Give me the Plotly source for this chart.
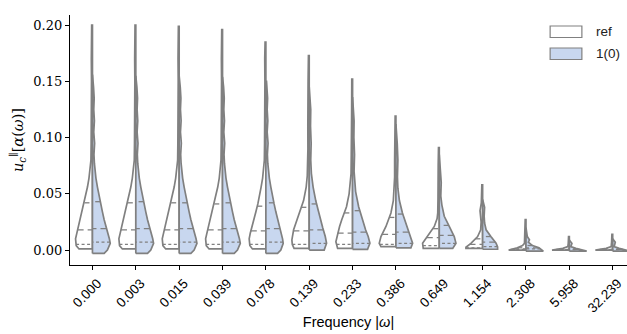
import numpy as np
import plotly.graph_objects as go

# ---------------- data ----------------
categories = ["0.000", "0.003", "0.015", "0.039", "0.078", "0.139", "0.233",
              "0.386", "0.649", "1.154", "2.308", "5.958", "32.239"]
series_names = ["ref", "1(0)"]

# ref (left half) outline: value levels and relative density (half width)
ref_levels = [
    [0.001, 0.004, 0.010, 0.015, 0.020, 0.027, 0.034, 0.041, 0.048, 0.056, 0.064, 0.072, 0.080, 0.095, 0.110, 0.130, 0.150, 0.170, 0.200],
    [0.001, 0.004, 0.010, 0.015, 0.020, 0.027, 0.034, 0.041, 0.048, 0.056, 0.064, 0.072, 0.080, 0.095, 0.110, 0.130, 0.150, 0.170, 0.200],
    [0.001, 0.004, 0.010, 0.015, 0.020, 0.027, 0.034, 0.041, 0.048, 0.056, 0.064, 0.072, 0.080, 0.095, 0.110, 0.130, 0.150, 0.170, 0.199],
    [0.001, 0.004, 0.010, 0.015, 0.020, 0.027, 0.034, 0.041, 0.048, 0.056, 0.064, 0.072, 0.080, 0.095, 0.110, 0.130, 0.150, 0.170, 0.196],
    [0.001, 0.004, 0.010, 0.015, 0.020, 0.027, 0.034, 0.041, 0.048, 0.056, 0.064, 0.072, 0.080, 0.095, 0.110, 0.130, 0.150, 0.170, 0.185],
    [0.0015, 0.005, 0.009, 0.018, 0.024, 0.030, 0.037, 0.044, 0.050, 0.056, 0.066, 0.074, 0.090, 0.110, 0.130, 0.150, 0.173],
    [0.0015, 0.0074, 0.015, 0.021, 0.027, 0.033, 0.0385, 0.050, 0.060, 0.068, 0.085, 0.100, 0.120, 0.152],
    [0.003, 0.006, 0.012, 0.021, 0.027, 0.033, 0.044, 0.053, 0.065, 0.080, 0.100, 0.119],
    [0.0015, 0.006, 0.012, 0.017, 0.021, 0.028, 0.033, 0.045, 0.060, 0.075, 0.091],
    [0.0015, 0.0025, 0.006, 0.012, 0.018, 0.025, 0.035, 0.042, 0.058],
    [0.0, 0.002, 0.004, 0.006, 0.010, 0.016, 0.027],
    [0.0, 0.0015, 0.003, 0.006, 0.012],
    [0.0, 0.0015, 0.003, 0.007, 0.014],
]
ref_density = [
    [0.31, 0.375, 0.39, 0.36, 0.33, 0.28, 0.235, 0.19, 0.15, 0.115, 0.08, 0.05, 0.035, 0.03, 0.025, 0.032, 0.022, 0.026, 0.018],
    [0.31, 0.375, 0.39, 0.36, 0.33, 0.28, 0.235, 0.19, 0.15, 0.115, 0.08, 0.05, 0.035, 0.03, 0.025, 0.032, 0.022, 0.026, 0.018],
    [0.31, 0.375, 0.39, 0.36, 0.33, 0.28, 0.235, 0.19, 0.15, 0.115, 0.08, 0.05, 0.035, 0.03, 0.025, 0.032, 0.022, 0.026, 0.018],
    [0.31, 0.375, 0.39, 0.36, 0.33, 0.28, 0.23, 0.19, 0.15, 0.11, 0.075, 0.05, 0.035, 0.03, 0.025, 0.032, 0.022, 0.026, 0.018],
    [0.31, 0.37, 0.385, 0.36, 0.33, 0.28, 0.23, 0.185, 0.145, 0.11, 0.075, 0.05, 0.035, 0.03, 0.025, 0.032, 0.022, 0.026, 0.018],
    [0.35, 0.39, 0.40, 0.36, 0.31, 0.25, 0.19, 0.13, 0.10, 0.07, 0.045, 0.035, 0.03, 0.032, 0.022, 0.026, 0.018],
    [0.345, 0.385, 0.345, 0.30, 0.25, 0.19, 0.14, 0.08, 0.05, 0.035, 0.03, 0.032, 0.022, 0.018],
    [0.345, 0.385, 0.345, 0.23, 0.17, 0.115, 0.06, 0.04, 0.03, 0.03, 0.025, 0.018],
    [0.37, 0.385, 0.27, 0.17, 0.115, 0.05, 0.035, 0.03, 0.035, 0.025, 0.018],
    [0.385, 0.385, 0.27, 0.115, 0.045, 0.035, 0.06, 0.03, 0.018],
    [0.40, 0.20, 0.08, 0.035, 0.03, 0.025, 0.018],
    [0.40, 0.15, 0.035, 0.025, 0.018],
    [0.40, 0.15, 0.035, 0.025, 0.018],
]

# 1(0) (right half) outline
cur_levels = [
    [-0.003, 0.0, 0.006, 0.010, 0.015, 0.021, 0.027, 0.034, 0.041, 0.048, 0.056, 0.064, 0.070, 0.077, 0.085, 0.095, 0.105, 0.115, 0.125, 0.135, 0.145, 0.156],
    [-0.003, 0.0, 0.006, 0.010, 0.015, 0.021, 0.027, 0.034, 0.041, 0.048, 0.056, 0.064, 0.070, 0.077, 0.085, 0.095, 0.105, 0.115, 0.125, 0.135, 0.145, 0.155],
    [-0.003, 0.0, 0.006, 0.010, 0.015, 0.021, 0.027, 0.034, 0.041, 0.048, 0.056, 0.064, 0.070, 0.077, 0.085, 0.095, 0.105, 0.115, 0.125, 0.135, 0.145, 0.155],
    [-0.003, 0.0, 0.006, 0.010, 0.015, 0.021, 0.027, 0.034, 0.041, 0.048, 0.056, 0.064, 0.070, 0.077, 0.085, 0.095, 0.105, 0.115, 0.125, 0.135, 0.145, 0.154],
    [-0.003, 0.0, 0.006, 0.010, 0.015, 0.021, 0.027, 0.034, 0.041, 0.048, 0.056, 0.064, 0.070, 0.077, 0.085, 0.095, 0.105, 0.115, 0.125, 0.135, 0.150],
    [0.0, 0.006, 0.012, 0.020, 0.027, 0.035, 0.044, 0.056, 0.068, 0.080, 0.095, 0.110, 0.125, 0.145],
    [0.0006, 0.006, 0.012, 0.018, 0.024, 0.031, 0.0385, 0.052, 0.062, 0.070, 0.085, 0.100, 0.115, 0.136],
    [0.002, 0.006, 0.012, 0.021, 0.027, 0.033, 0.044, 0.055, 0.065, 0.080, 0.095, 0.112],
    [0.0015, 0.006, 0.012, 0.021, 0.026, 0.030, 0.040, 0.048, 0.060, 0.072, 0.085],
    [0.0007, 0.0027, 0.006, 0.012, 0.018, 0.024, 0.030, 0.038, 0.045],
    [-0.001, 0.002, 0.004, 0.007, 0.009, 0.012, 0.020],
    [-0.001, 0.0015, 0.003, 0.006, 0.009],
    [-0.001, 0.0015, 0.003, 0.007, 0.010],
]
cur_density = [
    [0.27, 0.345, 0.41, 0.39, 0.35, 0.31, 0.27, 0.23, 0.19, 0.15, 0.115, 0.08, 0.06, 0.045, 0.035, 0.05, 0.03, 0.045, 0.03, 0.04, 0.025, 0.015],
    [0.27, 0.345, 0.41, 0.39, 0.35, 0.31, 0.27, 0.23, 0.19, 0.15, 0.115, 0.08, 0.06, 0.045, 0.035, 0.05, 0.03, 0.045, 0.03, 0.04, 0.025, 0.015],
    [0.27, 0.345, 0.41, 0.39, 0.35, 0.31, 0.27, 0.23, 0.19, 0.15, 0.115, 0.08, 0.06, 0.045, 0.035, 0.05, 0.03, 0.045, 0.03, 0.04, 0.025, 0.015],
    [0.27, 0.345, 0.41, 0.39, 0.35, 0.31, 0.27, 0.23, 0.19, 0.15, 0.115, 0.08, 0.06, 0.045, 0.035, 0.05, 0.03, 0.045, 0.03, 0.04, 0.025, 0.015],
    [0.27, 0.345, 0.40, 0.385, 0.35, 0.31, 0.27, 0.23, 0.19, 0.15, 0.115, 0.08, 0.06, 0.045, 0.035, 0.05, 0.03, 0.045, 0.03, 0.04, 0.015],
    [0.345, 0.40, 0.37, 0.31, 0.27, 0.21, 0.15, 0.09, 0.05, 0.035, 0.045, 0.03, 0.035, 0.015],
    [0.345, 0.40, 0.36, 0.30, 0.25, 0.19, 0.14, 0.07, 0.045, 0.035, 0.045, 0.03, 0.035, 0.015],
    [0.345, 0.385, 0.33, 0.25, 0.20, 0.15, 0.08, 0.045, 0.035, 0.045, 0.03, 0.015],
    [0.31, 0.385, 0.345, 0.23, 0.16, 0.115, 0.06, 0.035, 0.045, 0.03, 0.015],
    [0.345, 0.345, 0.31, 0.19, 0.08, 0.045, 0.035, 0.045, 0.015],
    [0.40, 0.30, 0.15, 0.055, 0.08, 0.03, 0.015],
    [0.40, 0.15, 0.035, 0.06, 0.015],
    [0.40, 0.15, 0.035, 0.06, 0.015],
]

# quartiles (q1, median, q3)
ref_quartiles = [
    (0.005, 0.018, 0.042), (0.005, 0.018, 0.042), (0.005, 0.018, 0.042),
    (0.005, 0.018, 0.041), (0.005, 0.017, 0.039), (0.005, 0.017, 0.038),
    (0.005, 0.015, 0.033), (0.005, 0.014, 0.029), (0.004, 0.011, 0.019),
    (0.002, 0.005, 0.010), (0.0005, 0.001, 0.002), (0.0003, 0.0006, 0.001),
    (0.0003, 0.0006, 0.001),
]
cur_quartiles = [
    (0.007, 0.019, 0.043), (0.007, 0.019, 0.043), (0.007, 0.019, 0.042),
    (0.007, 0.019, 0.042), (0.007, 0.019, 0.042), (0.006, 0.018, 0.041),
    (0.006, 0.016, 0.035), (0.006, 0.016, 0.032), (0.006, 0.013, 0.022),
    (0.003, 0.007, 0.012), (0.001, 0.002, 0.004), (0.0003, 0.0006, 0.001),
    (0.0003, 0.0006, 0.001),
]

# ---------------- styling ----------------
EDGE = "#808080"
FILL_REF = "#ffffff"
FILL_CUR = "#c8d7ef"
SERIF = "DejaVu Serif, Liberation Serif, serif"
SANS = "Liberation Sans, DejaVu Sans, sans-serif"

fig = go.Figure()

for i, cat in enumerate(categories):
    for side, lv, dn, qs, fill, name in (
        (-1, ref_levels[i], ref_density[i], ref_quartiles[i], FILL_REF, series_names[0]),
        (1, cur_levels[i], cur_density[i], cur_quartiles[i], FILL_CUR, series_names[1]),
    ):
        lv = np.asarray(lv, dtype=float)
        dn = np.asarray(dn, dtype=float)
        xs = np.concatenate([[i], i + side * dn, [i], [i]])
        ys = np.concatenate([[lv[0]], lv, [lv[-1]], [lv[0]]])
        fig.add_trace(go.Scatter(
            x=xs, y=ys, mode="lines", fill="toself", fillcolor=fill,
            line=dict(color=EDGE, width=1.7), name=name,
            showlegend=False, hoverinfo="skip",
        ))
        for q, dash in zip(qs, ("3px,2.5px", "6px,4px", "5px,4px")):
            wq = float(np.interp(q, lv, dn))
            fig.add_trace(go.Scatter(
                x=[i + side * wq, i], y=[q, q], mode="lines",
                line=dict(color=EDGE, width=1.3, dash=dash),
                showlegend=False, hoverinfo="skip",
            ))

# legend drawn as patches (paper coordinates) with real text labels
legend_fills = [FILL_REF, FILL_CUR]
for k, (nm, fc) in enumerate(zip(series_names, legend_fills)):
    y_top = 0.956 - k * 0.088
    fig.add_shape(type="rect", xref="paper", yref="paper",
                  x0=0.862, x1=0.919, y0=y_top - 0.046, y1=y_top,
                  fillcolor=fc, line=dict(color=EDGE, width=1.2))
    fig.add_annotation(xref="paper", yref="paper", x=0.94, y=y_top - 0.023,
                       text=nm, showarrow=False, xanchor="left", yanchor="middle",
                       font=dict(family=SANS, size=13.5, color="#222"))

fig.update_layout(
    width=627, height=334,
    margin=dict(l=70, r=0, t=15, b=69),
    paper_bgcolor="white", plot_bgcolor="white",
    showlegend=False,
    xaxis=dict(
        range=[-0.518, 12.33], tickmode="array", automargin=False,
        tickvals=list(range(len(categories))), ticktext=categories,
        tickangle=-45, ticks="outside", ticklen=4, tickwidth=1.2, tickcolor="black",
        ticklabelshift=5,
        showline=True, linecolor="black", linewidth=1.4, showgrid=False, zeroline=False,
        tickfont=dict(family=SANS, size=13.5, color="black"),
        title=dict(text="Frequency |<i>ω</i>|", font=dict(family=SANS, size=14.5, color="black"),
                   standoff=2),
    ),
    yaxis=dict(
        range=[-0.0133, 0.209], tickmode="array", automargin=False,
        tickvals=[0.0, 0.05, 0.10, 0.15, 0.20],
        ticktext=["0.00", "0.05", "0.10", "0.15", "0.20"],
        ticks="outside", ticklen=4, tickwidth=1.2, tickcolor="black",
        showline=True, linecolor="black", linewidth=1.4, showgrid=False, zeroline=False,
        tickfont=dict(family=SERIF, size=13, color="black"),
        title=dict(text="<i>u</i><sub><i>c</i></sub><sup>∥</sup>[<i>α</i>(<i>ω</i>)]",
                   font=dict(family=SERIF, size=14.5, color="black"), standoff=6),
    ),
)

fig.write_html("out.html", config={"displayModeBar": False},
               post_script="document.body.style.margin='0px';document.body.style.overflow='hidden';")
